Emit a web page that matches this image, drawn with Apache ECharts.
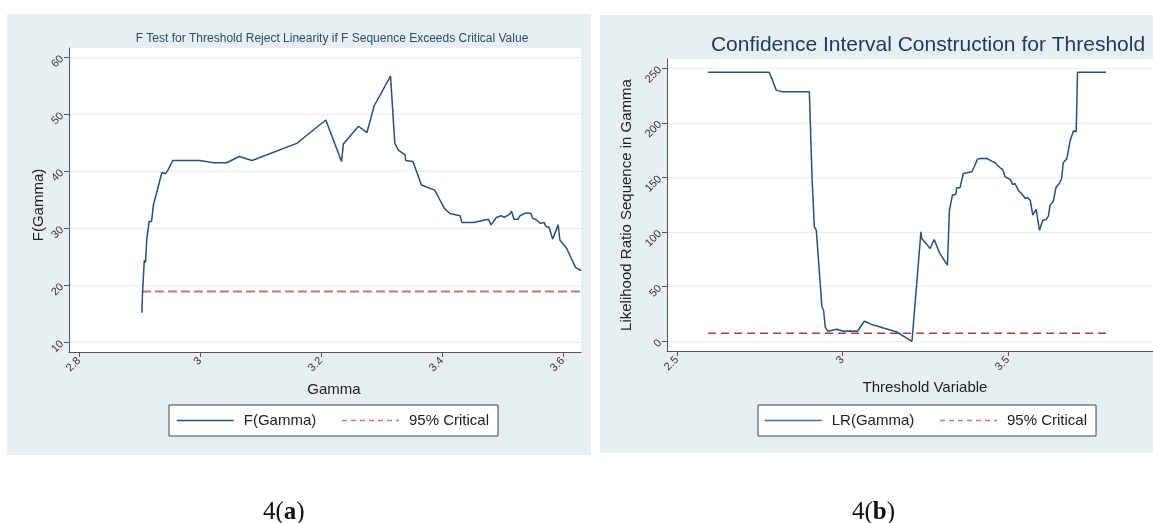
<!DOCTYPE html>
<html>
<head>
<meta charset="utf-8">
<script src="https://cdn.jsdelivr.net/npm/echarts@6/dist/echarts.min.js"></script>
<style>
  html, body { margin: 0; padding: 0; background: #ffffff; }
  #main { width: 1153px; height: 523px; }
</style>
</head>
<body>
<div id="main"></div>
<script>
// Panel (a): F statistic over the candidate threshold values
const gammaGrid = [2.904, 2.905, 2.908, 2.910, 2.911, 2.912, 2.916, 2.920, 2.923, 2.928,
  2.937, 2.943, 2.947, 2.955, 3.000, 3.022, 3.044, 3.065, 3.086, 3.160,
  3.174, 3.208, 3.234, 3.237, 3.262, 3.276, 3.288, 3.315, 3.322, 3.328,
  3.339, 3.340, 3.352, 3.366, 3.388, 3.396, 3.404, 3.413, 3.430, 3.433,
  3.452, 3.477, 3.481, 3.490, 3.498, 3.503, 3.512, 3.515, 3.519, 3.526,
  3.529, 3.539, 3.547, 3.550, 3.556, 3.562, 3.569, 3.572, 3.577, 3.583,
  3.592, 3.595, 3.606, 3.621, 3.630];
const fGamma = [15.2, 18.6, 24.4, 24.0, 24.3, 28.0, 31.2, 31.2, 34.1, 36.1,
  39.8, 39.6, 40.2, 41.9, 41.9, 41.5, 41.5, 42.6, 41.9, 44.9,
  46.1, 49.0, 41.7, 44.8, 47.9, 46.8, 51.5, 56.7, 44.9, 43.7,
  42.9, 41.9, 41.7, 37.6, 36.7, 35.1, 33.5, 32.6, 32.2, 31.0,
  31.0, 31.6, 30.6, 31.9, 32.2, 31.9, 32.5, 33.0, 31.6, 31.6,
  32.2, 32.7, 32.6, 31.75, 31.5, 30.9, 31.0, 30.3, 30.2, 28.1,
  30.6, 27.9, 26.5, 23.1, 22.6];
const fCritical = 18.9;
const fXTicks = [2.8, 3, 3.2, 3.4, 3.6];
const fYTicks = [10, 20, 30, 40, 50, 60];

// Panel (b): likelihood ratio sequence over the threshold variable
const thresholdGrid = [2.594, 2.779, 2.800, 2.817, 2.900, 2.908, 2.912, 2.915, 2.921, 2.938,
  2.943, 2.948, 2.955, 2.983, 3.003, 3.023, 3.045, 3.066, 3.089, 3.164,
  3.210, 3.237, 3.239, 3.265, 3.277, 3.293, 3.317, 3.323, 3.332, 3.343,
  3.345, 3.355, 3.365, 3.391, 3.398, 3.408, 3.418, 3.436, 3.441, 3.451,
  3.461, 3.476, 3.484, 3.491, 3.501, 3.508, 3.514, 3.521, 3.531, 3.545,
  3.552, 3.559, 3.567, 3.575, 3.585, 3.595, 3.605, 3.615, 3.622, 3.627,
  3.637, 3.642, 3.645, 3.655, 3.662, 3.667, 3.678, 3.688, 3.698, 3.706,
  3.710, 3.796];
const lrGamma = [246.3, 246.3, 230, 228.6, 228.6, 150.6, 150, 104.8, 101.7, 31.4,
  28.4, 13.1, 9.2, 11, 9.2, 9.5, 9.2, 18.3, 15.3, 8.5,
  0, 100.2, 94.4, 85, 93.2, 81, 69.7, 120, 133.8, 134.7,
  140.5, 140.5, 153.7, 155.2, 159.8, 166.8, 167.4, 167.4, 168.3, 165,
  163.5, 158.9, 157.4, 150.6, 149.1, 147.6, 143.6, 144.5, 138.4, 133.8,
  130.8, 131.7, 129.2, 115.5, 120.7, 101.7, 110.9, 111.5, 114.6, 124.7,
  128.3, 127.7, 140.9, 144.5, 149.1, 163.5, 167.4, 184.2, 192.8, 191.9,
  246.3, 246.3];
const lrCritical = 7.35;
const lrXTicks = [2.5, 3, 3.5];
const lrYTicks = [0, 50, 100, 150, 200, 250];

const FONT = '"Liberation Sans", Arial, sans-serif';
const SERIF = '"Liberation Serif", "Times New Roman", serif';
const NAVY = '#2a4f79';
const AXIS = '#555555';
const GRIDLINE = '#e4edf0';
const PANEL = '#e8eff2';
const NO_MARKER = { opacity: 0, borderWidth: 0 };

const zip = (xs, ys) => xs.map((x, i) => [x, ys[i]]);
const flat = (xs, v) => [[xs[0], v], [xs[xs.length - 1], v]];

function valueAxis(gridIndex, min, max, ticks, grid, extra) {
  return Object.assign({
    type: 'value',
    gridIndex: gridIndex,
    min: min,
    max: max,
    axisLine: { show: true, onZero: false, lineStyle: { color: AXIS, width: 1 } },
    axisTick: { show: true, customValues: ticks, length: 5, lineStyle: { color: AXIS, width: 1 } },
    axisLabel: { customValues: ticks, rotate: 45, fontSize: 11, color: '#333', fontFamily: FONT, margin: 7 },
    splitLine: { show: grid, lineStyle: { color: GRIDLINE, width: 1 } },
    nameLocation: 'middle',
    nameTextStyle: { fontSize: 15, color: '#222', fontFamily: FONT }
  }, extra);
}

function caption(letter, left) {
  return {
    type: 'text', left: left, top: 500, silent: true,
    style: {
      text: '{r|4(}{b|' + letter + '}{r|)}',
      rich: {
        r: { fontFamily: SERIF, fontSize: 25, fill: '#111' },
        b: { fontFamily: SERIF, fontSize: 25, fontWeight: 'bold', fill: '#111' }
      }
    }
  };
}

const chart = echarts.init(document.getElementById('main'), null, { renderer: 'canvas' });

chart.setOption({
  animation: false,
  textStyle: { fontFamily: FONT },
  graphic: [
    { type: 'rect', z: -10, silent: true, shape: { x: 7, y: 14, width: 584, height: 441 }, style: { fill: PANEL } },
    { type: 'rect', z: -10, silent: true, shape: { x: 600, y: 15, width: 553, height: 438 }, style: { fill: PANEL } },
    caption('a', 263),
    caption('b', 852)
  ],
  title: [
    {
      text: 'F Test for Threshold Reject Linearity if F Sequence Exceeds Critical Value',
      left: 332, top: 33, textAlign: 'center', padding: 0,
      textStyle: { fontSize: 12, fontWeight: 'normal', color: '#2d4a6f', fontFamily: FONT }
    },
    {
      text: 'Confidence Interval Construction for Threshold',
      left: 928, top: 35, textAlign: 'center', padding: 0,
      textStyle: { fontSize: 21, fontWeight: 'normal', color: '#22395f', fontFamily: FONT }
    }
  ],
  legend: [
    {
      left: 169, top: 405, orient: 'horizontal', selectedMode: false,
      itemWidth: 57, itemHeight: 14, itemGap: 25,
      padding: [8, 9, 8, 7],
      borderColor: '#444', borderWidth: 1, backgroundColor: '#ffffff',
      textStyle: { fontSize: 15, color: '#222', fontFamily: FONT, padding: [0, 0, 0, 5] },
      data: [
        { name: 'F(Gamma)', itemStyle: NO_MARKER, lineStyle: { color: NAVY, width: 1.5, type: 'solid' } },
        { name: '95% Critical', itemStyle: NO_MARKER, lineStyle: { color: '#c4767a', width: 1.5, type: [5, 4] } }
      ]
    },
    {
      left: 758, top: 405, orient: 'horizontal', selectedMode: false,
      itemWidth: 57, itemHeight: 14, itemGap: 25,
      padding: [8, 9, 8, 6],
      borderColor: '#444', borderWidth: 1, backgroundColor: '#ffffff',
      textStyle: { fontSize: 15, color: '#222', fontFamily: FONT, padding: [0, 0, 0, 5] },
      data: [
        { name: 'LR(Gamma)', itemStyle: NO_MARKER, lineStyle: { color: '#4a6d94', width: 1.5, type: 'solid' } },
        { name: '95% Critical', itemStyle: NO_MARKER, lineStyle: { color: '#c4767a', width: 1.5, type: [5, 4] } }
      ]
    }
  ],
  grid: [
    { left: 69, top: 48, width: 512, height: 304, show: true, backgroundColor: '#ffffff', borderWidth: 0 },
    { left: 667, top: 59, width: 486, height: 292, show: true, backgroundColor: '#ffffff', borderWidth: 0 }
  ],
  xAxis: [
    valueAxis(0, 2.7835, 3.6298, fXTicks, false, {
      name: 'Gamma', nameGap: 30,
      nameTextStyle: { fontSize: 15, color: '#222', fontFamily: FONT, padding: [0, 0, 0, 18] }
    }),
    valueAxis(1, 2.47, 3.938, lrXTicks, false, {
      name: 'Threshold Variable', nameGap: 29,
      nameTextStyle: { fontSize: 15, color: '#222', fontFamily: FONT, padding: [0, 0, 0, 30] }
    })
  ],
  yAxis: [
    valueAxis(0, 8.3, 61.63, fYTicks, true, {
      name: 'F(Gamma)', nameGap: 21, nameRotate: 90,
      nameTextStyle: { fontSize: 15, color: '#222', fontFamily: FONT, padding: [0, 10, 0, 0] }
    }),
    valueAxis(1, -8.9, 258.5, lrYTicks, true, {
      name: 'Likelihood Ratio Sequence in Gamma', nameGap: 33, nameRotate: 90
    })
  ],
  series: [
    {
      name: 'F(Gamma)', type: 'line', xAxisIndex: 0, yAxisIndex: 0,
      data: zip(gammaGrid, fGamma), symbol: 'none', showSymbol: false, clip: true,
      itemStyle: { color: NAVY }, lineStyle: { color: NAVY, width: 1.5 }, z: 3
    },
    {
      name: '95% Critical', type: 'line', xAxisIndex: 0, yAxisIndex: 0,
      data: flat(gammaGrid, fCritical), symbol: 'none', showSymbol: false, clip: true,
      itemStyle: { color: '#c4777b' }, lineStyle: { color: '#c4777b', width: 2, type: [9, 4] }, z: 2
    },
    {
      name: 'LR(Gamma)', type: 'line', xAxisIndex: 1, yAxisIndex: 1,
      data: zip(thresholdGrid, lrGamma), symbol: 'none', showSymbol: false, clip: true,
      itemStyle: { color: NAVY }, lineStyle: { color: NAVY, width: 1.5 }, z: 3
    },
    {
      name: '95% Critical', type: 'line', xAxisIndex: 1, yAxisIndex: 1,
      data: flat(thresholdGrid, lrCritical), symbol: 'none', showSymbol: false, clip: true,
      itemStyle: { color: '#a63f46' }, lineStyle: { color: '#a63f46', width: 1.5, type: [8, 5] }, z: 2
    }
  ]
});
</script>
</body>
</html>
